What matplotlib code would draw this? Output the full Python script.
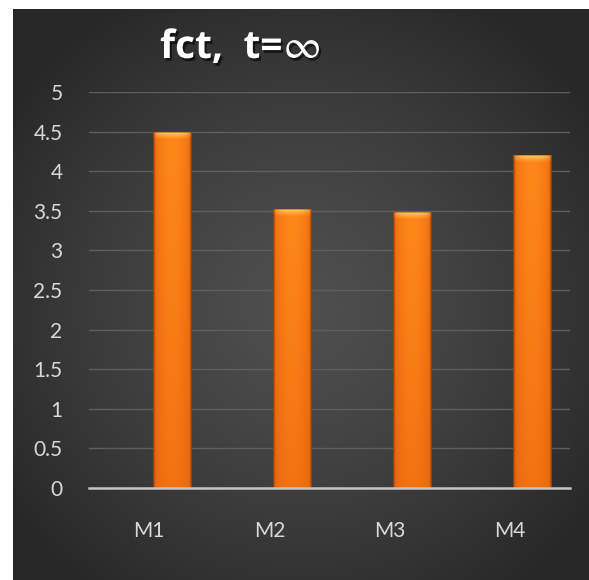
import numpy as np
import matplotlib
matplotlib.use("Agg")
import matplotlib.pyplot as plt
import matplotlib.patheffects as pe

# Chart data
categories = ["M1", "M2", "M3", "M4"]
values = [4.5, 3.52, 3.48, 4.2]
y_ticks = [0, 0.5, 1, 1.5, 2, 2.5, 3, 3.5, 4, 4.5, 5]
y_tick_labels = ["0", "0.5", "1", "1.5", "2", "2.5", "3", "3.5", "4", "4.5", "5"]
title_main = "fct,  t="
title_sym = r"$\infty$"

W, H = 589, 580
fig = plt.figure(figsize=(W / 100, H / 100), dpi=100)
fig.patch.set_facecolor("white")

# Dark radial-gradient panel
bg = fig.add_axes([13 / W, 0, (W - 13) / W, (H - 9) / H])
bg.set_axis_off()
ny, nx = 400, 400
yy, xx = np.mgrid[0:ny, 0:nx]
cx, cy = nx * 0.5, ny * 0.52
r = np.sqrt(((xx - cx) / (nx * 0.62)) ** 2 + ((yy - cy) / (ny * 0.62)) ** 2)
r = np.clip(r, 0, 1)
c_in, c_out = 0.31, 0.155
g = c_in + (c_out - c_in) * r ** 1.3
bg.imshow(np.dstack([g, g, g]), extent=[0, 1, 0, 1], aspect="auto", interpolation="bilinear")
bg.set_xlim(0, 1)
bg.set_ylim(0, 1)

# Plot area
ax = fig.add_axes([89 / W, (H - 487.7) / H, (570 - 89) / W, (487.7 - 92.2) / H])
ax.set_facecolor("none")
x = np.arange(len(categories))
bar_offset = 0.19
bar_width = 0.32
ax.set_xlim(-0.5, len(categories) - 0.5)
ax.set_ylim(0, 5)

for s in ["top", "right", "left"]:
    ax.spines[s].set_visible(False)
ax.spines["bottom"].set_color("#c4c4c4")
ax.spines["bottom"].set_linewidth(1.8)
ax.spines["bottom"].set_zorder(5)

ax.set_yticks(y_ticks)
ax.set_yticklabels(y_tick_labels)
ax.set_xticks(x)
ax.set_xticklabels(categories)
ax.tick_params(axis="both", length=0, labelsize=15, labelcolor="#d9d9d9")
ax.tick_params(axis="y", pad=19)
ax.tick_params(axis="x", pad=24)
for lab in ax.get_xticklabels() + ax.get_yticklabels():
    lab.set_family("Lato")

ax.grid(axis="y", color="#5e5e5e", linewidth=1.0)
ax.set_axisbelow(True)

bars = ax.bar(x + bar_offset, values, width=bar_width, color="#f47a12",
              edgecolor="none", zorder=2)

# Glossy orange shading on each bar
fig.canvas.draw()
edge_dark = np.array([0.50, 0.20, 0.03])
side = np.array([0.93, 0.42, 0.05])
center = np.array([1.00, 0.53, 0.10])
bottom_tint = np.array([0.86, 0.34, 0.04])
top_hi = np.array([1.00, 0.84, 0.45])
for b in bars:
    x0, y0 = b.get_x(), b.get_y()
    bw, bh = b.get_width(), b.get_height()
    p0 = ax.transData.transform((x0, y0))
    p1 = ax.transData.transform((x0 + bw, y0 + bh))
    wpx = max(int(round(p1[0] - p0[0])), 4)
    hpx = max(int(round(p1[1] - p0[1])), 4)
    u = (np.arange(wpx) + 0.5) / wpx
    t = np.abs(u - 0.5) * 2
    row = center[None, :] * (1 - t[:, None] ** 2) + side[None, :] * (t[:, None] ** 2)
    ed = np.clip((t - 0.86) / 0.14, 0, 1)[:, None]
    row = row * (1 - ed) + edge_dark[None, :] * ed
    img = np.repeat(row[None, :, :], hpx, axis=0)
    # slightly redder towards the base
    v = (np.arange(hpx) + 0.5) / hpx  # 0 at top row
    k = 0.4 * v[:, None, None] * (1 - ed[None, :, :])
    img = img * (1 - k) + bottom_tint[None, None, :] * k
    # top bevel highlight
    band = 7
    hv = np.clip(1 - np.arange(hpx) / band, 0, 1) ** 1.2
    hl = hv[:, None] * (1 - t[None, :] ** 4) * 0.85
    img = img * (1 - hl[:, :, None]) + top_hi[None, None, :] * hl[:, :, None]
    img[0, :, :] = img[0, :, :] * 0.6 + edge_dark * 0.4
    im = ax.imshow(np.clip(img, 0, 1), extent=[x0, x0 + bw, y0, y0 + bh],
                   aspect="auto", interpolation="bilinear", zorder=3)
    im.set_clip_path(b)
ax.set_xlim(-0.5, len(categories) - 0.5)
ax.set_ylim(0, 5)

# Title with soft drop shadow
shadow = [pe.SimplePatchShadow(offset=(1.5, -2), shadow_rgbFace="black", alpha=0.6), pe.Normal()]
t1 = fig.text(160 / W, 1 - 58 / H, title_main, color="white", fontsize=28,
              fontweight="bold", family="Open Sans", ha="left", va="baseline",
              path_effects=shadow)
fig.canvas.draw()
bb = t1.get_window_extent()
fig.text((bb.x1 + 1) / W, 1 - 58 / H, title_sym, color="white", fontsize=30,
         math_fontfamily="stix", ha="left", va="baseline",
         path_effects=shadow)

fig.savefig("out.png", dpi=100, facecolor="white")
